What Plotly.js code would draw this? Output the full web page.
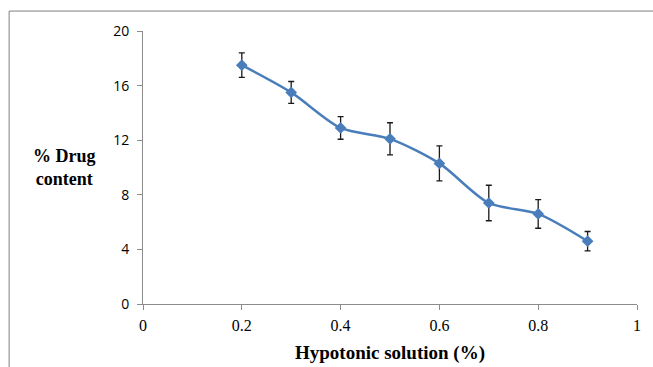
<!DOCTYPE html>
<html>
<head>
<meta charset="utf-8">
<script src="https://cdn.plot.ly/plotly-3.0.1.min.js"></script>
<style>html,body{margin:0;padding:0;background:#fff;}#chart{width:653px;height:367px;}</style>
</head>
<body>
<div id="chart"></div>
<script>
const concentration = [0.2, 0.3, 0.4, 0.5, 0.6, 0.7, 0.8, 0.9];
const drugContent = [17.5, 15.5, 12.9, 12.1, 10.3, 7.4, 6.6, 4.6];
const errorSD = [0.9, 0.8, 0.83, 1.18, 1.28, 1.3, 1.05, 0.71];
const xTicks = [0, 0.2, 0.4, 0.6, 0.8, 1];
const yTicks = [0, 4, 8, 12, 16, 20];

const trace = {
  x: concentration, y: drugContent, type: 'scatter', mode: 'lines+markers',
  line: {color: '#4a7ebb', width: 2.5, shape: 'spline', smoothing: 0.8},
  marker: {symbol: 'diamond', size: 9, color: '#4a7ebb'},
  error_y: {type: 'data', array: errorSD, visible: true, color: '#1a1a1a', thickness: 1.3, width: 3},
  hoverinfo: 'skip'
};

const layout = {
  width: 653, height: 367,
  margin: {l: 143, r: 16, t: 31, b: 63},
  paper_bgcolor: '#fff', plot_bgcolor: '#fff',
  showlegend: false,
  xaxis: {
    range: [0, 1], tickvals: xTicks, ticktext: xTicks.map(String),
    showgrid: false, zeroline: false, showline: true, linecolor: '#8c8c8c', linewidth: 1,
    ticks: 'outside', ticklen: 5, tickcolor: '#8c8c8c', ticklabelstandoff: 2,
    tickfont: {family: 'Liberation Serif, serif', size: 16, color: '#000'},
    title: {text: '<b>Hypotonic solution (%)</b>', font: {family: 'Liberation Serif, serif', size: 19, color: '#000'}, standoff: 12}
  },
  yaxis: {
    range: [0, 20], tickvals: yTicks, ticktext: yTicks.map(String),
    showgrid: false, zeroline: false, showline: true, linecolor: '#8c8c8c', linewidth: 1,
    ticks: 'outside', ticklen: 5, tickcolor: '#8c8c8c', ticklabelstandoff: 5,
    tickfont: {family: 'Open Sans, sans-serif', size: 14, color: '#000'}
  },
  annotations: [{
    text: '<b>% Drug<br>content</b>', xref: 'paper', yref: 'paper', x: -0.158, y: 0.5,
    xanchor: 'center', yanchor: 'middle', showarrow: false, align: 'center',
    font: {family: 'Liberation Serif, serif', size: 18, color: '#000'}
  }],
  shapes: [
    {type: 'line', xref: 'paper', yref: 'paper', x0: -0.271, x1: -0.271, y0: -0.3, y1: 1.073, line: {color: '#7f7f7f', width: 1}},
    {type: 'line', xref: 'paper', yref: 'paper', x0: -0.271, x1: 1.1, y0: 1.073, y1: 1.073, line: {color: '#7f7f7f', width: 1}}
  ]
};

Plotly.newPlot('chart', [trace], layout, {displayModeBar: false, staticPlot: true});
</script>
</body>
</html>
